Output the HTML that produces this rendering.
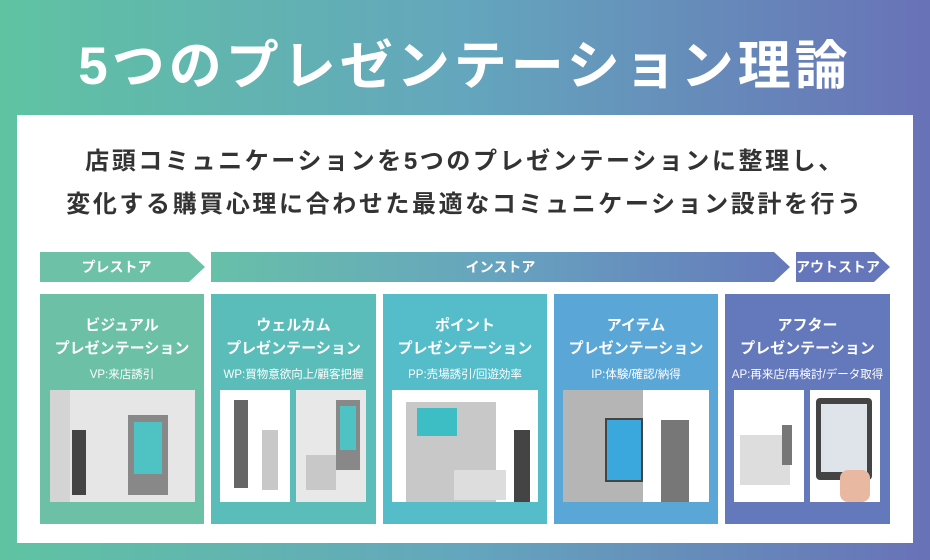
<!DOCTYPE html>
<html><head><meta charset="utf-8"><style>
*{margin:0;padding:0;box-sizing:border-box}
body{width:930px;height:560px;overflow:hidden;background:linear-gradient(90deg,#5fc3a2 0%,#64a6bd 50%,#6872b7 100%);font-family:"Liberation Sans","Noto Sans CJK JP",sans-serif;position:relative}
.t{position:absolute;left:0;width:930px;text-align:center;color:#fff;font-weight:bold;font-size:53px;top:24px;letter-spacing:4px}
.panel{position:absolute;left:17px;top:115px;width:896px;height:428px;background:#fff}
.sub{position:absolute;left:0;width:930px;text-align:center;color:#333;font-weight:bold;font-size:24px;line-height:43px;top:140px;letter-spacing:2.6px}
.ar{position:absolute;top:252px;height:30px;color:#fff;font-size:14px;font-weight:bold;display:flex;align-items:center;justify-content:center;clip-path:polygon(0 0,calc(100% - 16px) 0,100% 50%,calc(100% - 16px) 100%,0 100%)}
.c{position:absolute;top:294px;height:230px;color:#fff;text-align:center;font-weight:bold}
.c .h{margin-top:20px;font-size:15px;line-height:23px}
.c .s{font-size:11.5px;font-weight:normal;margin-top:6px}
.im{position:absolute;top:96px;height:112px;background:#fff;overflow:hidden}
.g{position:absolute;background:#c8c8c8}
.d{position:absolute;background:#555}
</style></head><body>
<div class="t">5つのプレゼンテーション理論</div>
<div class="panel"></div>
<div class="sub">店頭コミュニケーションを5つのプレゼンテーションに整理し、<br>変化する購買心理に合わせた最適なコミュニケーション設計を行う</div>
<div class="ar" style="left:40px;width:165px;background:#6cc1a7;padding-right:12px">プレストア</div>
<div class="ar" style="left:211px;width:579px;background:linear-gradient(90deg,#67c0a8,#67a3bf 50%,#6679bb)">インストア</div>
<div class="ar" style="left:796px;width:94px;background:#6676bb;padding-right:10px">アウトストア</div>

<div class="c" style="left:40px;width:164px;background:#6cc0a6"><div class="h">ビジュアル<br>プレゼンテーション</div><div class="s">VP:来店誘引</div>
<div class="im" style="left:10px;width:145px;background:#e6e6e6"><div class="g" style="left:0;top:0;width:20px;height:112px;background:#d4d4d4"></div><div class="d" style="left:78px;top:25px;width:40px;height:80px;background:#888"></div><div style="position:absolute;left:84px;top:32px;width:28px;height:52px;background:#4fc2c4"></div><div class="d" style="left:22px;top:40px;width:14px;height:65px;background:#444"></div></div></div>

<div class="c" style="left:211px;width:165px;background:#5bbdb9"><div class="h">ウェルカム<br>プレゼンテーション</div><div class="s">WP:買物意欲向上/顧客把握</div>
<div class="im" style="left:9px;width:70px"><div class="d" style="left:14px;top:10px;width:14px;height:88px;background:#666"></div><div class="g" style="left:42px;top:40px;width:16px;height:60px"></div></div>
<div class="im" style="left:85px;width:70px;background:#e8e8e8"><div class="d" style="left:40px;top:10px;width:24px;height:70px;background:#888"></div><div style="position:absolute;left:44px;top:16px;width:16px;height:44px;background:#4fc2c4"></div><div class="g" style="left:10px;top:65px;width:30px;height:35px"></div></div></div>

<div class="c" style="left:383px;width:164px;background:#55bcca"><div class="h">ポイント<br>プレゼンテーション</div><div class="s">PP:売場誘引/回遊効率</div>
<div class="im" style="left:9px;width:146px"><div class="g" style="left:14px;top:12px;width:90px;height:100px"></div><div style="position:absolute;left:25px;top:18px;width:40px;height:28px;background:#3dbdc4"></div><div class="d" style="left:122px;top:40px;width:16px;height:72px;background:#444"></div><div class="g" style="left:62px;top:80px;width:52px;height:30px;background:#ddd"></div></div></div>

<div class="c" style="left:554px;width:164px;background:#5aa6d7"><div class="h">アイテム<br>プレゼンテーション</div><div class="s">IP:体験/確認/納得</div>
<div class="im" style="left:9px;width:146px"><div class="g" style="left:0;top:0;width:80px;height:112px;background:#b5b5b5"></div><div style="position:absolute;left:42px;top:28px;width:38px;height:64px;background:#3aa8dc;border:2px solid #444"></div><div class="d" style="left:98px;top:30px;width:28px;height:82px;background:#777"></div></div></div>

<div class="c" style="left:725px;width:165px;background:#6478bc"><div class="h">アフター<br>プレゼンテーション</div><div class="s">AP:再来店/再検討/データ取得</div>
<div class="im" style="left:9px;width:70px"><div class="g" style="left:6px;top:45px;width:50px;height:50px;background:#ddd"></div><div class="d" style="left:48px;top:35px;width:10px;height:40px;background:#777"></div></div>
<div class="im" style="left:85px;width:70px"><div class="d" style="left:6px;top:8px;width:56px;height:82px;background:#444;border-radius:4px"></div><div style="position:absolute;left:11px;top:14px;width:46px;height:68px;background:#dfe3ea"></div><div style="position:absolute;left:30px;top:80px;width:30px;height:32px;background:#e8b9a0;border-radius:8px"></div></div></div>
</body></html>
